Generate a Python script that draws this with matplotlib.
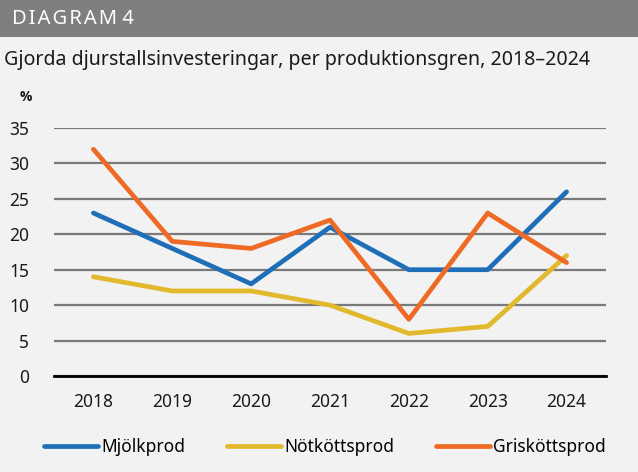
import matplotlib.pyplot as plt
from matplotlib.patches import Rectangle

plt.rcParams['font.family'] = ['Noto Sans', 'DejaVu Sans']

years = ['2018', '2019', '2020', '2021', '2022', '2023', '2024']
mjolk = [23, 18, 13, 21, 15, 15, 26]
notkott = [14, 12, 12, 10, 6, 7, 17]
griskott = [32, 19, 18, 22, 8, 23, 16]

bg = '#F2F2F2'
fig = plt.figure(figsize=(6.38, 4.72), dpi=100, facecolor=bg)

# header bar
fig.patches.append(Rectangle((0, 1 - 37 / 472), 1, 37 / 472, transform=fig.transFigure,
                             facecolor='#7F7F7F', edgecolor='none'))
header = '\u200a'.join('DIAGRAM') + ' 4'
fig.text(12 / 638, 1 - 19 / 472, header, color='white', fontsize=14.5,
         va='center', ha='left')
fig.text(4 / 638, 1 - 60 / 472,
         'Gjorda djurstallsinvesteringar, per produktionsgren, 2018\u20132024',
         fontsize=14.1, va='center', ha='left', color='#1a1a1a')
fig.text(20 / 638, 1 - 97 / 472, '%', fontsize=10, fontweight='bold',
         family=['Open Sans', 'DejaVu Sans'], va='center', ha='left', color='#1a1a1a')

ax = fig.add_axes([54 / 638, 1 - 376 / 472, 552 / 638, 248 / 472])
ax.set_facecolor(bg)
x = range(len(years))
ax.plot(x, mjolk, color='#1F6FB8', lw=3.4, label='Mjölkprod', solid_capstyle='round', zorder=3)
ax.plot(x, notkott, color='#E2B92C', lw=3.4, label='Nötköttsprod', solid_capstyle='round', zorder=3)
ax.plot(x, griskott, color='#EE6A25', lw=3.4, label='Grisköttsprod', solid_capstyle='round', zorder=3)

ax.set_xlim(-0.5, 6.5)
ax.set_ylim(0, 35)
ax.set_yticks(range(0, 36, 5))
ax.set_xticks(list(x))
ax.set_xticklabels(years)
ax.grid(axis='y', color='#7a7a7a', lw=1.6, zorder=1)
ax.axhline(0, color='black', lw=2, zorder=4, clip_on=False)
for s in ax.spines.values():
    s.set_visible(False)
ax.tick_params(length=0, labelsize=12.5, colors='#1a1a1a')
ax.tick_params(axis='y', pad=18)
ax.tick_params(axis='x', pad=12)

leg = fig.legend(loc='center', bbox_to_anchor=(325 / 638, 1 - 447 / 472), ncol=3,
                 frameon=False, fontsize=12.5, handlelength=3.1, handletextpad=0.2,
                 columnspacing=2.4)
for h in leg.get_lines():
    h.set_solid_capstyle('round')

plt.savefig('out.png', dpi=100, facecolor=bg)
